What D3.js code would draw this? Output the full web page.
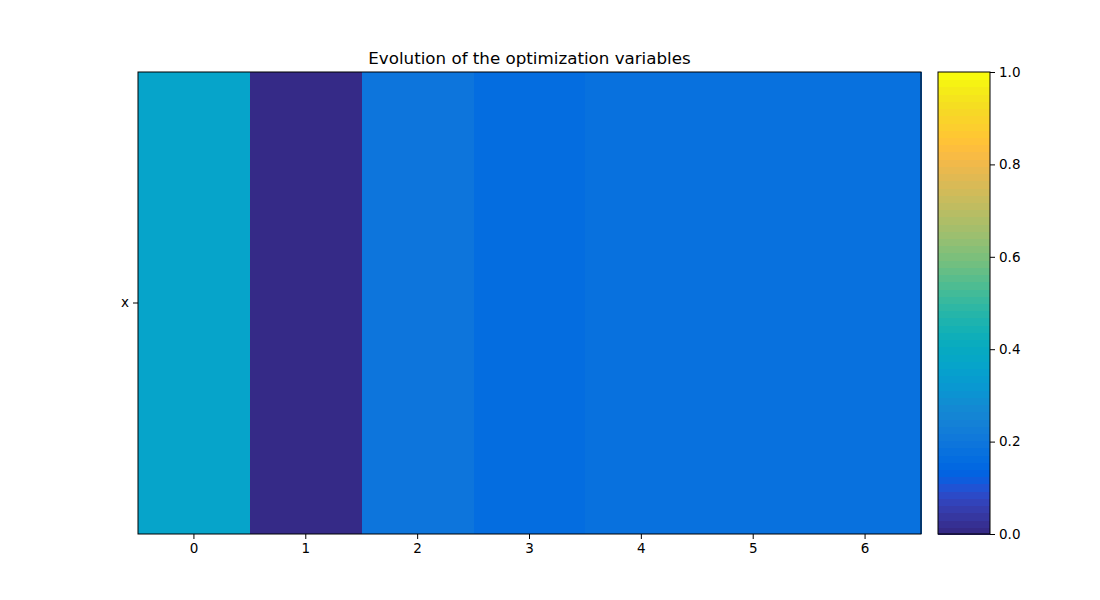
<!DOCTYPE html>
<html>
<head>
<meta charset="utf-8">
<script src="https://cdn.jsdelivr.net/npm/d3@7"></script>
<style>
  body { margin: 0; background: #fff; }
  svg { font-family: "DejaVu Sans", sans-serif; }
</style>
</head>
<body>
<svg id="chart" width="1100" height="600"></svg>
<script>
// heatmap: one variable "x" over 7 iterations
const iterations = [0, 1, 2, 3, 4, 5, 6];
const variables = ["x"];
const xValues = [0.37, 0.01, 0.20, 0.16, 0.18, 0.18, 0.18];
const cbTicks = [0.0, 0.2, 0.4, 0.6, 0.8, 1.0];

// parula, 64 entries
const parula = [
  [0.2081,0.1663,0.5292],[0.2116,0.1898,0.5777],[0.2123,0.2138,0.6270],[0.2081,0.2386,0.6771],
  [0.1959,0.2645,0.7279],[0.1707,0.2919,0.7792],[0.1253,0.3242,0.8303],[0.0591,0.3598,0.8683],
  [0.0117,0.3875,0.8820],[0.0060,0.4086,0.8828],[0.0165,0.4266,0.8786],[0.0329,0.4430,0.8720],
  [0.0498,0.4586,0.8641],[0.0629,0.4737,0.8554],[0.0723,0.4887,0.8467],[0.0779,0.5040,0.8384],
  [0.0793,0.5200,0.8312],[0.0749,0.5375,0.8263],[0.0641,0.5570,0.8240],[0.0488,0.5772,0.8228],
  [0.0343,0.5966,0.8199],[0.0265,0.6137,0.8135],[0.0239,0.6287,0.8038],[0.0231,0.6418,0.7913],
  [0.0228,0.6535,0.7768],[0.0267,0.6642,0.7607],[0.0384,0.6743,0.7436],[0.0590,0.6838,0.7254],
  [0.0843,0.6928,0.7062],[0.1133,0.7015,0.6859],[0.1453,0.7098,0.6646],[0.1801,0.7177,0.6424],
  [0.2178,0.7250,0.6193],[0.2586,0.7317,0.5954],[0.3022,0.7376,0.5712],[0.3482,0.7424,0.5473],
  [0.3953,0.7459,0.5244],[0.4420,0.7481,0.5033],[0.4871,0.7491,0.4840],[0.5300,0.7491,0.4661],
  [0.5709,0.7485,0.4494],[0.6099,0.7473,0.4337],[0.6473,0.7456,0.4188],[0.6834,0.7435,0.4044],
  [0.7184,0.7411,0.3905],[0.7525,0.7384,0.3768],[0.7858,0.7356,0.3633],[0.8185,0.7327,0.3498],
  [0.8507,0.7299,0.3360],[0.8824,0.7274,0.3217],[0.9139,0.7258,0.3063],[0.9450,0.7261,0.2886],
  [0.9739,0.7314,0.2666],[0.9938,0.7455,0.2403],[0.9990,0.7653,0.2164],[0.9955,0.7861,0.1967],
  [0.9880,0.8066,0.1794],[0.9789,0.8271,0.1633],[0.9697,0.8481,0.1475],[0.9626,0.8705,0.1309],
  [0.9589,0.8949,0.1132],[0.9598,0.9218,0.0948],[0.9661,0.9514,0.0755],[0.9763,0.9831,0.0538]
].map(c => d3.rgb(c[0] * 255, c[1] * 255, c[2] * 255).formatHex());

const color = d3.scaleQuantize().domain([0, 1]).range(parula);

const svg = d3.select("#chart");
const plotL = 138, plotR = 921, plotT = 72, plotB = 534;
const cbL = 938, cbR = 990;

const x = d3.scaleBand().domain(iterations).range([plotL, plotR]).padding(0);
const y = d3.scaleBand().domain(variables).range([plotT, plotB]).padding(0);

svg.append("g").attr("shape-rendering", "crispEdges").selectAll("rect")
  .data(xValues.map((v, i) => ({ it: iterations[i], v })))
  .join("rect")
  .attr("x", d => x(d.it))
  .attr("y", y("x"))
  .attr("width", x.bandwidth() + 1)
  .attr("height", y.bandwidth())
  .attr("fill", d => color(d.v));

svg.append("rect")
  .attr("x", plotL).attr("y", plotT)
  .attr("width", plotR - plotL).attr("height", plotB - plotT)
  .attr("fill", "none").attr("stroke", "#000").attr("stroke-width", 1);

const xAxis = svg.append("g")
  .attr("transform", `translate(0,${plotB})`)
  .call(d3.axisBottom(x).tickSize(5).tickPadding(4).tickSizeOuter(0));
const yAxis = svg.append("g")
  .attr("transform", `translate(${plotL},0)`)
  .call(d3.axisLeft(y).tickSize(5).tickPadding(4).tickSizeOuter(0));
[xAxis, yAxis].forEach(a => {
  a.select(".domain").remove();
  a.selectAll("text").attr("font-size", 13.5).attr("font-family", "DejaVu Sans").attr("fill", "#000");
  a.selectAll("line").attr("stroke", "#000");
});

// colorbar
const cy = d3.scaleLinear().domain([0, 1]).range([plotB, plotT]);
const nb = parula.length;
svg.append("g").attr("shape-rendering", "crispEdges").selectAll("rect")
  .data(d3.range(nb))
  .join("rect")
  .attr("x", cbL)
  .attr("y", i => cy((i + 1) / nb))
  .attr("width", cbR - cbL)
  .attr("height", i => cy(i / nb) - cy((i + 1) / nb) + 1)
  .attr("fill", i => parula[i]);
svg.append("rect")
  .attr("x", cbL).attr("y", plotT)
  .attr("width", cbR - cbL).attr("height", plotB - plotT)
  .attr("fill", "none").attr("stroke", "#000").attr("stroke-width", 1);
const cAxis = svg.append("g")
  .attr("transform", `translate(${cbR},0)`)
  .call(d3.axisRight(cy).tickValues(cbTicks).tickFormat(d3.format(".1f")).tickSize(5).tickPadding(4).tickSizeOuter(0));
cAxis.select(".domain").remove();
cAxis.selectAll("text").attr("font-size", 13.5).attr("font-family", "DejaVu Sans").attr("fill", "#000");
cAxis.selectAll("line").attr("stroke", "#000");

svg.append("text")
  .attr("x", (plotL + plotR) / 2).attr("y", 64)
  .attr("text-anchor", "middle")
  .attr("font-size", 16.7)
  .attr("fill", "#000")
  .text("Evolution of the optimization variables");
</script>
</body>
</html>
